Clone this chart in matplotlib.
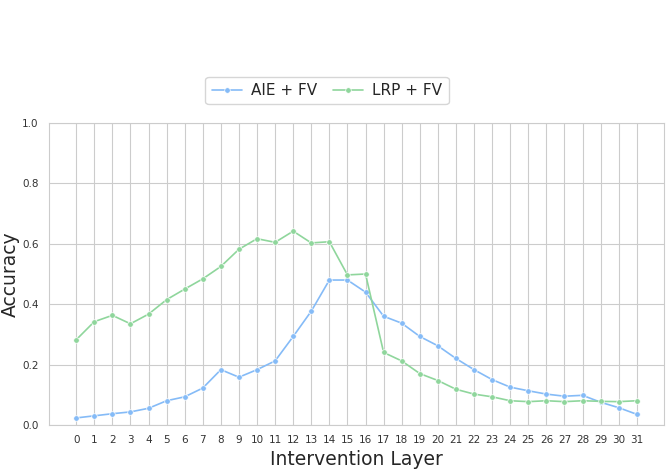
#!/usr/bin/env python3
# -*- coding: utf-8 -*-

import numpy as np
import matplotlib
matplotlib.use('Agg')
import matplotlib.pyplot as plt
import seaborn as sns

layers = list(range(32))

aie_fv = [0.023, 0.030, 0.037, 0.043, 0.055, 0.080, 0.093, 0.122,
          0.183, 0.158, 0.183, 0.212, 0.293, 0.377, 0.480, 0.480,
          0.440, 0.360, 0.337, 0.293, 0.262, 0.220, 0.183, 0.150,
          0.125, 0.113, 0.102, 0.095, 0.098, 0.075, 0.057, 0.035]

lrp_fv = [0.282, 0.342, 0.363, 0.335, 0.367, 0.415, 0.450, 0.484,
          0.525, 0.582, 0.617, 0.605, 0.642, 0.603, 0.607, 0.497,
          0.500, 0.240, 0.212, 0.170, 0.147, 0.118, 0.102, 0.093,
          0.080, 0.077, 0.080, 0.077, 0.080, 0.078, 0.077, 0.080]

sns.set_style('whitegrid')

fig = plt.figure(figsize=(6.72, 4.70), dpi=100)
ax = fig.add_axes([0.073, 0.096, 0.915, 0.642])

ax.plot(layers, aie_fv, color='#85bbf7', lw=1.2, marker='o', ms=4,
        mec='white', mew=0.5, label='AIE + FV')
ax.plot(layers, lrp_fv, color='#8fd69c', lw=1.2, marker='o', ms=4,
        mec='white', mew=0.5, label='LRP + FV')

ax.set_xlim(-1.5, 32.5)
ax.set_ylim(0, 1.0)
ax.set_xticks(layers)
ax.set_xticklabels([str(i) for i in layers])
ax.set_yticks([0.0, 0.2, 0.4, 0.6, 0.8, 1.0])
ax.tick_params(axis='both', labelsize=7.5, colors='#333333')
ax.tick_params(axis='y', pad=4)
ax.set_xlabel('Intervention Layer', fontsize=13.5)
ax.set_ylabel('Accuracy', fontsize=13.5)
ax.yaxis.set_label_coords(-0.047, 0.5)

for s in ax.spines.values():
    s.set_color('#cccccc')

ax.legend(loc='center', bbox_to_anchor=(0.452, 1.108), ncol=2, fontsize=11,
          frameon=True, handlelength=2.0, columnspacing=1.0,
          handletextpad=0.6, borderpad=0.4)

fig.savefig('out.png', dpi=100)
